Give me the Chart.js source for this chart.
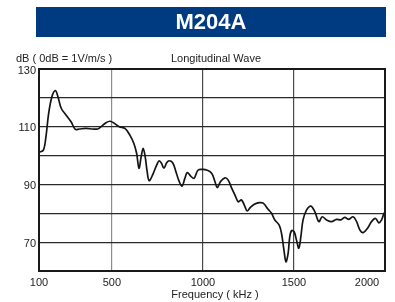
<!DOCTYPE html>
<html>
<head>
<meta charset="utf-8">
<script src="https://cdn.jsdelivr.net/npm/chart.js@4.4.1/dist/chart.umd.min.js"></script>
<style>
  html, body { margin: 0; padding: 0; background: #fff; }
  #wrap { width: 395px; height: 302px; }
</style>
</head>
<body>
<div id="wrap"><canvas id="grafica" width="395" height="302"></canvas></div>
<script>
// Datos de la curva (frecuencia en kHz, nivel en dB)
const frecuencias = [100, 124, 138, 153, 171, 190, 204, 222, 248, 276, 299, 321, 358, 395, 422, 440, 468, 490, 513, 541, 572,
  599, 621, 636, 649, 661, 672, 683, 694, 705, 724, 746, 760, 773, 786, 801, 815, 834, 852, 867, 885, 901, 914, 933, 951, 974,
  1002, 1020, 1048, 1066, 1079, 1097, 1121, 1139, 1158, 1176, 1194, 1212, 1231, 1243, 1262, 1285, 1309, 1331, 1358, 1377,
  1395, 1419, 1432, 1445, 1456, 1468, 1477, 1487, 1501, 1514, 1527, 1538, 1550, 1569, 1593, 1615, 1637, 1655, 1679, 1706,
  1734, 1757, 1779, 1801, 1825, 1844, 1862, 1880, 1904, 1926, 1948, 1966, 1981, 1995];
const niveles = [101.1, 101.9, 106.5, 114.6, 120.4, 122.5, 120.4, 116.4, 114.1, 111.7, 109.1, 109.2, 109.4, 109.2, 109.2, 110.0, 111.4, 111.9, 111.2, 110.0, 109.4,
  107.1, 104.2, 100.8, 95.6, 99.6, 102.5, 99.6, 94.4, 91.3, 93.3, 96.7, 98.2, 97.3, 95.6, 97.5, 98.2, 97.5, 94.4, 91.5, 89.4, 92.1, 94.1, 92.9, 92.1, 95.0,
  95.2, 95.0, 93.9, 91.0, 88.9, 91.0, 92.3, 91.5, 88.7, 86.3, 84.0, 84.6, 82.3, 80.8, 82.1, 83.2, 83.7, 83.5, 81.4, 80.0,
  77.7, 75.9, 73.0, 67.3, 63.2, 66.1, 71.9, 74.0, 73.6, 70.7, 67.9, 71.9, 77.7, 81.1, 82.5, 80.5, 77.1, 78.8, 77.7, 77.1,
  77.9, 77.7, 78.6, 77.9, 78.8, 77.1, 74.2, 73.3, 74.8, 77.1, 78.2, 76.7, 77.7, 80.2];

const ticksX = [100, 500, 1000, 1500, 2000];
const ticksY = [70, 90, 110, 130];
const titulo = 'M204A';
const etiquetaY = 'dB ( 0dB = 1V/m/s )';
const subtitulo = 'Longitudinal Wave';
const etiquetaX = 'Frequency ( kHz )';

const puntos = frecuencias.map((f, i) => ({ x: f, y: niveles[i] }));

// Dibuja el encabezado, textos y ejes
const decoracion = {
  id: 'decoracion',
  beforeDraw(chart) {
    const ctx = chart.ctx;
    ctx.save();
    ctx.fillStyle = '#ffffff';
    ctx.fillRect(0, 0, chart.width, chart.height);
    ctx.fillStyle = '#003b82';
    ctx.fillRect(36, 7, 350, 30);
    ctx.fillStyle = '#ffffff';
    ctx.font = 'bold 22px "Liberation Sans", Arial, sans-serif';
    ctx.textAlign = 'center';
    ctx.textBaseline = 'middle';
    ctx.fillText(titulo, 211, 23);
    ctx.restore();
  },
  afterDraw(chart) {
    const ctx = chart.ctx;
    const area = chart.chartArea;
    const sx = chart.scales.x;
    const sy = chart.scales.y;
    ctx.save();
    ctx.strokeStyle = '#1a1a1a';
    ctx.lineWidth = 2;
    ctx.strokeRect(area.left, area.top, area.right - area.left, area.bottom - area.top);

    ctx.fillStyle = '#222';
    ctx.font = '11px "Liberation Sans", Arial, sans-serif';
    ctx.textBaseline = 'alphabetic';
    ctx.textAlign = 'left';
    ctx.fillText(etiquetaY, 16, 62);
    ctx.textAlign = 'center';
    ctx.fillText(subtitulo, 216, 62);

    ctx.textBaseline = 'middle';
    ctx.textAlign = 'right';
    ticksY.forEach(v => ctx.fillText(String(v), 36, sy.getPixelForValue(v) + 1.5));

    ctx.textAlign = 'center';
    ticksX.forEach((v, i) => {
      let px = sx.getPixelForValue(v);
      if (i === ticksX.length - 1) px -= 18;
      ctx.fillText(String(v), px, 283);
    });
    ctx.fillText(etiquetaX, 215, 295);
    ctx.restore();
  }
};

function setupChart() {
  const ctx = document.getElementById('grafica').getContext('2d');
  new Chart(ctx, {
    type: 'line',
    data: {
      datasets: [{
        data: puntos,
        borderColor: '#141414',
        borderWidth: 1.7,
        pointRadius: 0,
        tension: 0.35,
        fill: false
      }]
    },
    options: {
      responsive: false,
      animation: false,
      events: [],
      layout: { padding: { left: 39, top: 69, right: 10, bottom: 31 } },
      plugins: { legend: { display: false }, tooltip: { enabled: false } },
      scales: {
        x: {
          type: 'linear',
          min: 100,
          max: 2000,
          afterBuildTicks: axis => { axis.ticks = ticksX.map(v => ({ value: v })); },
          ticks: { display: false },
          grid: {
            drawTicks: false,
            lineWidth: 1.2,
            color: c => (c.tick && c.tick.value === 500) ? '#8c8c8c' : '#4a4a4a'
          },
          border: { display: false }
        },
        y: {
          min: 60,
          max: 130,
          ticks: { display: false, stepSize: 10 },
          grid: { drawTicks: false, lineWidth: 1.2, color: '#2a2a2a' },
          border: { display: false }
        }
      }
    },
    plugins: [decoracion]
  });
}

document.addEventListener('DOMContentLoaded', setupChart);
</script>
</body>
</html>
